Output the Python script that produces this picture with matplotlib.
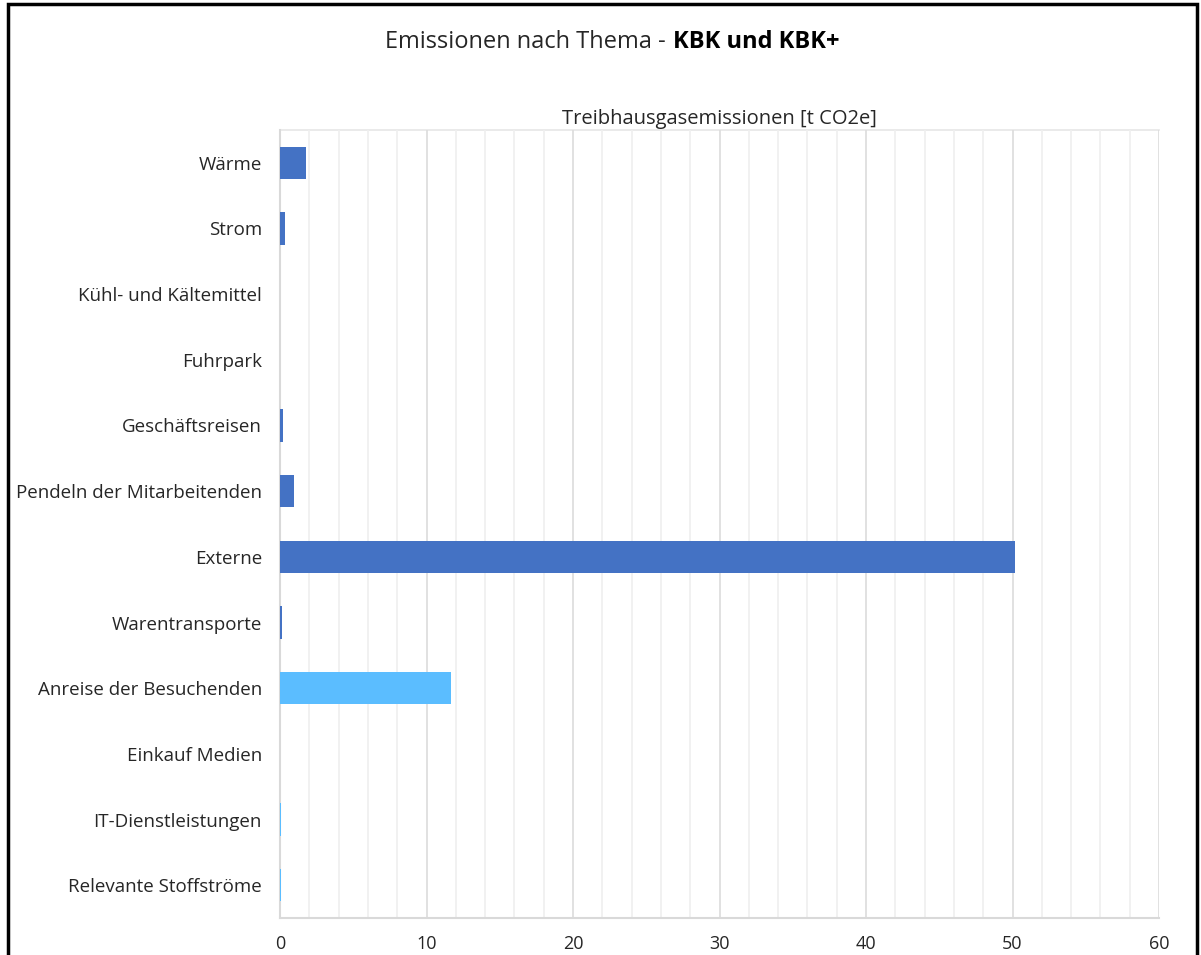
import matplotlib
matplotlib.use("Agg")
import matplotlib.pyplot as plt
from matplotlib.patches import Rectangle
from matplotlib.ticker import MultipleLocator

plt.rcParams['font.family'] = ['Open Sans', 'DejaVu Sans']

categories = ["Wärme", "Strom", "Kühl- und Kältemittel", "Fuhrpark", "Geschäftsreisen",
              "Pendeln der Mitarbeitenden", "Externe", "Warentransporte",
              "Anreise der Besuchenden", "Einkauf Medien", "IT-Dienstleistungen",
              "Relevante Stoffströme"]
values = [1.75, 0.35, 0.0, 0.0, 0.22, 0.95, 50.2, 0.12, 11.7, 0.0, 0.1, 0.1]
groups = ["KBK"] * 8 + ["KBK+"] * 4
group_colors = {"KBK": "#4472C4", "KBK+": "#5BBDFF"}
xticks = [0, 10, 20, 30, 40, 50, 60]

TXT = "#262626"
W, H = 1201, 955
fig = plt.figure(figsize=(W / 100, H / 100), dpi=100)
ax = fig.add_axes([280 / W, 1 - 918 / H, (1159 - 280) / W, (918 - 130) / H])

ypos = list(range(len(categories)))
colors = [group_colors[g] for g in groups]
ax.barh(ypos, values, height=0.49, color=colors, zorder=3)
ax.set_ylim(len(categories) - 0.5, -0.5)
ax.set_yticks(ypos)
ax.set_yticklabels(categories, fontsize=13.5, color=TXT)
ax.set_xlim(0, 60)
ax.set_xticks(xticks)
ax.xaxis.set_minor_locator(MultipleLocator(2))
ax.tick_params(axis='x', which='both', length=0, labelsize=13, labelcolor=TXT, pad=12)
ax.tick_params(axis='y', length=0, pad=13)
ax.grid(axis='x', which='major', color="#DCDCDC", linewidth=1.2, zorder=0)
ax.grid(axis='x', which='minor', color="#EFEFEF", linewidth=1.2, zorder=0)
for s in ['top', 'right']:
    ax.spines[s].set_visible(False)
ax.spines['left'].set_color("#D9D9D9")
ax.spines['bottom'].set_color("#D9D9D9")
ax.spines['left'].set_linewidth(1.5)
ax.spines['bottom'].set_linewidth(1.5)
ax.plot([0, 60], [-0.5, -0.5], color="#E6E6E6", lw=1.2, clip_on=False, zorder=1)

ax.set_title("Treibhausgasemissionen [t CO2e]", fontsize=14.5, color=TXT, pad=4)

fig.text(666 / W, 1 - 42 / H, "Emissionen nach Thema -", ha='right', va='center',
         fontsize=17, color=TXT)
fig.text(673 / W, 1 - 42 / H, "KBK und KBK+", ha='left', va='center',
         fontsize=17, fontweight='bold', color="black")

fig.patches.append(Rectangle((8 / W, -0.05), (1197 - 8) / W, 1.05 - 4 / H,
                             transform=fig.transFigure, fill=False,
                             edgecolor="black", linewidth=2.5))

fig.savefig("out.png", dpi=100, facecolor="white")
